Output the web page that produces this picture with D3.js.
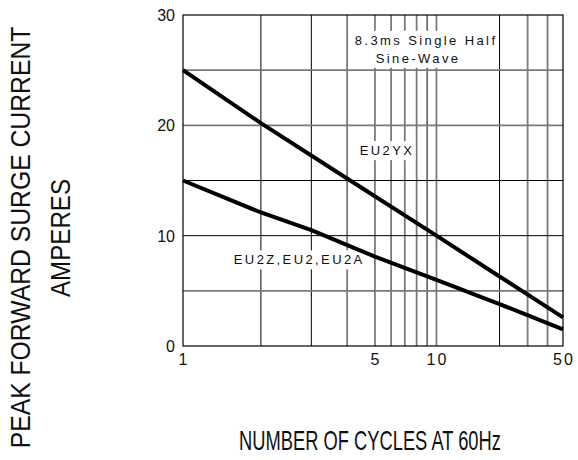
<!DOCTYPE html>
<html>
<head>
<meta charset="utf-8">
<style>
  body { margin: 0; background: #fff; }
  svg { display: block; font-family: "Liberation Sans", Arial, sans-serif; }
  .tick-label { font-size: 16px; fill: #111; }
  .note { font-size: 13px; letter-spacing: 2.4px; fill: #111; }
  .title { font-size: 27px; fill: #111; }
</style>
</head>
<body>
<div id="chart"></div>
<script src="https://d3js.org/d3.v7.min.js"></script>
<script>
  // Axis ticks and grid
  const cycleTicks = [1, 5, 10, 50];
  const ampTicks = [0, 10, 20, 30];
  const gridCycles = [2, 3, 4, 5, 6, 7, 8, 9, 10, 20, 30, 40];
  const darkCycles = [2, 3, 9, 20];
  const gridAmps = [5, 10, 15, 20, 25];
  const darkAmps = [10, 15];

  // Curves
  const eu2yxCycles = [1, 2, 4.1, 10, 20, 50];
  const eu2yxAmps = [25, 20.2, 15, 10, 6.3, 2.6];
  const eu2zCycles = [1, 2, 3, 5, 10, 20, 50];
  const eu2zAmps = [15, 12.1, 10.5, 8.1, 6.0, 3.8, 1.5];

  const width = 578;
  const height = 460;
  const margin = { top: 15, left: 183, right: 15, bottom: 114 };
  const plotW = width - margin.left - margin.right;
  const plotH = height - margin.top - margin.bottom;

  const svg = d3.select('#chart')
    .append('svg')
    .attr('width', width)
    .attr('height', height);

  // the printed axis is not a clean log scale, so it is pieced together per decade
  const x = d3.scaleLog()
    .domain([1, 2, 5, 10, 20, 50])
    .range([0, 0.205, 0.505, 0.667, 0.833, 1].map(f => margin.left + f * plotW));

  const y = d3.scaleLinear()
    .domain([0, 30])
    .range([margin.top + plotH, margin.top]);

  // grid lines
  svg.append('g')
    .selectAll('line')
    .data(gridCycles)
    .join('line')
    .attr('x1', d => x(d)).attr('x2', d => x(d))
    .attr('y1', y(0)).attr('y2', y(30))
    .attr('stroke', d => darkCycles.includes(d) ? '#000' : '#7a7a7a')
    .attr('stroke-width', d => darkCycles.includes(d) ? 1 : 1.8);

  svg.append('g')
    .selectAll('line')
    .data(gridAmps)
    .join('line')
    .attr('x1', x(1)).attr('x2', x(50))
    .attr('y1', d => y(d)).attr('y2', d => y(d))
    .attr('stroke', d => darkAmps.includes(d) ? '#000' : '#7a7a7a')
    .attr('stroke-width', d => darkAmps.includes(d) ? 1 : 1.8);

  // frame
  svg.append('rect')
    .attr('x', x(1)).attr('y', y(30))
    .attr('width', x(50) - x(1)).attr('height', y(0) - y(30))
    .attr('fill', 'none')
    .attr('stroke', '#000')
    .attr('stroke-width', 1.2);

  // labels with white boxes behind them
  function boxedText(lines, cx, cy, lineGap) {
    const g = svg.append('g');
    const bg = g.append('rect').attr('fill', '#fff');
    const t = g.append('text')
      .attr('class', 'note')
      .attr('text-anchor', 'middle');
    lines.forEach((s, i) => {
      t.append('tspan')
        .attr('x', cx + (s.dx || 0))
        .attr('y', cy + i * lineGap)
        .text(s.text);
    });
    const b = t.node().getBBox();
    bg.attr('x', b.x - 3).attr('y', b.y - 2)
      .attr('width', b.width + 4).attr('height', b.height + 4);
  }

  boxedText([{ text: '8.3ms Single Half' }, { text: 'Sine-Wave', dx: -8 }], x(8.7) + 2, y(27.3), 18);
  boxedText([{ text: 'EU2YX' }], x(5.6) + 2, y(17.3), 0);
  boxedText([{ text: 'EU2Z,EU2,EU2A' }], x(2.7) + 1, y(7.4), 0);

  // curves
  const line = d3.line()
    .x(d => x(d[0]))
    .y(d => y(d[1]));

  svg.append('path')
    .datum(d3.zip(eu2yxCycles, eu2yxAmps))
    .attr('fill', 'none')
    .attr('stroke', '#000')
    .attr('stroke-width', 4)
    .attr('d', line);

  svg.append('path')
    .datum(d3.zip(eu2zCycles, eu2zAmps))
    .attr('fill', 'none')
    .attr('stroke', '#000')
    .attr('stroke-width', 4)
    .attr('d', line);

  // tick labels
  svg.append('g')
    .selectAll('text')
    .data(ampTicks)
    .join('text')
    .attr('class', 'tick-label')
    .attr('x', x(1) - 8)
    .attr('y', d => y(d) + 6)
    .attr('text-anchor', 'end')
    .text(d => d);

  svg.append('g')
    .selectAll('text')
    .data(cycleTicks)
    .join('text')
    .attr('class', 'tick-label')
    .attr('x', d => x(d) + 1)
    .attr('y', y(0) + 19)
    .attr('text-anchor', 'middle')
    .attr('letter-spacing', '2px')
    .text(d => d);

  // axis titles: the printed lettering is narrow, so squeeze each to its length
  function squeezedTitle(label, tx, ty, angle, len, size) {
    const t = svg.append('text')
      .attr('class', 'title')
      .attr('text-anchor', 'middle')
      .attr('font-size', size)
      .text(label);
    const k = len / t.node().getComputedTextLength();
    t.attr('transform', `translate(${tx},${ty}) rotate(${angle}) scale(${k},1)`);
  }

  squeezedTitle('PEAK FORWARD SURGE CURRENT', 30, 237.5, -90, 422, 27);
  squeezedTitle('AMPERES', 70, 238, -90, 118, 27);
  squeezedTitle('NUMBER OF CYCLES AT 60Hz', 370, 450, 0, 262, 24);
</script>
</body>
</html>
